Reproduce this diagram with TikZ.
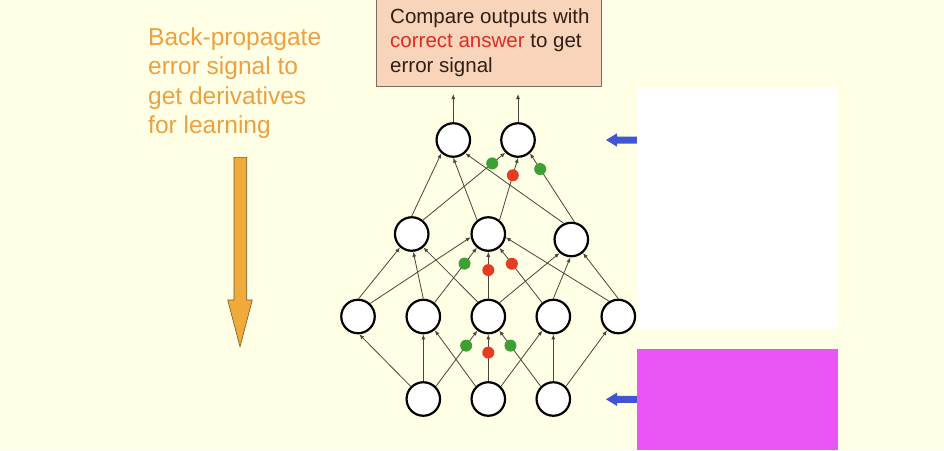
\documentclass[tikz,border=0pt]{standalone}
\usepackage{fontspec}
\setmainfont{Liberation Sans}
\usetikzlibrary{arrows.meta}
\definecolor{bg}{RGB}{255,255,230}
\definecolor{edgec}{RGB}{70,70,60}
\definecolor{dotg}{RGB}{60,160,50}
\definecolor{dotr}{RGB}{230,60,35}
\definecolor{boxfill}{RGB}{247,212,186}
\definecolor{boxline}{RGB}{120,110,100}
\definecolor{boxtext}{RGB}{50,30,20}
\definecolor{redtext}{RGB}{220,45,35}
\definecolor{orangetext}{RGB}{238,160,65}
\definecolor{arrowfill}{RGB}{240,170,60}
\definecolor{arrowline}{RGB}{110,90,40}
\definecolor{bluearrow}{RGB}{65,85,210}
\definecolor{magentabox}{RGB}{234,85,245}
\tikzset{
  neuron/.style={circle, draw=black, line width=2.2pt, fill=white, minimum size=33.5pt, inner sep=0pt},
  edge/.style={draw=edgec, line width=0.8pt, -{Latex[length=5pt,width=4pt]}},
  gdot/.style={circle, fill=dotg, minimum size=12pt, inner sep=0pt},
  rdot/.style={circle, fill=dotr, minimum size=12pt, inner sep=0pt},
  boxtxt/.style={anchor=base west, inner sep=0pt, text=boxtext, font=\fontsize{20.5}{24}\selectfont},
  otxt/.style={anchor=base west, inner sep=0pt, text=orangetext, font=\fontsize{24.5}{29}\selectfont},
}
\begin{document}
\begin{tikzpicture}[x=1pt,y=-1pt]
\useasboundingbox (0,0) rectangle (944,450);
\fill[bg] (0,0) rectangle (944,450);

% orange text and arrow
\node[otxt] (b1) at (148,45) {Back-propagate};
\node[otxt] (b2) at (148,74.5) {error signal to};
\node[otxt] (b3) at (148,104) {get derivatives};
\node[otxt] (b4) at (148,133.5) {for learning};
\draw[fill=arrowfill, draw=arrowline, line width=0.6pt]
  (234,157.3) -- (246.7,157.3) -- (246.7,300) -- (252.3,300) -- (240,346.7)
  -- (227.7,300) -- (234,300) -- cycle;

% compare box
\node[draw=boxline, fill=boxfill, line width=0.8pt, minimum width=225pt, minimum height=95pt,
      anchor=south west, inner sep=0pt] (cmp) at (375.7,87) {};
\node[boxtxt] (c1) at (390,23) {Compare outputs with};
\node[boxtxt] (c2) at (390,47.5) {\textcolor{redtext}{correct answer} to get};
\node[boxtxt] (c3) at (390,72) {error signal};

% blue arrows (partly hidden by rectangles)
\fill[bluearrow] (606,140) -- (617,133.3) -- (617,136.5) -- (640,136.5) -- (640,143.5)
  -- (617,143.5) -- (617,146.7) -- cycle;
\fill[bluearrow] (606,399.3) -- (617,392.6) -- (617,395.8) -- (640,395.8) -- (640,402.8)
  -- (617,402.8) -- (617,406) -- cycle;
\fill[white] (637,88.3) rectangle (837,329.3);
\fill[magentabox] (637,349) rectangle (838,450);

% neurons
\node[neuron] (o1) at (453.3,140) {};
\node[neuron] (o2) at (518,140) {};
\node[neuron] (h21) at (411.7,234) {};
\node[neuron] (h22) at (488.3,234) {};
\node[neuron] (h23) at (571.3,239.5) {};
\node[neuron] (h11) at (358,316.5) {};
\node[neuron] (h12) at (423.3,316.5) {};
\node[neuron] (h13) at (488.3,316.5) {};
\node[neuron] (h14) at (553.3,316.5) {};
\node[neuron] (h15) at (618.3,316.5) {};
\node[neuron] (i1) at (423.3,399) {};
\node[neuron] (i2) at (488.3,399) {};
\node[neuron] (i3) at (553.3,399) {};

\coordinate (t1) at (453.3,94);
\coordinate (t2) at (518,94);
\draw[edge] (o1.north) -- (t1);
\draw[edge] (o2.north) -- (t2);

% input -> hidden 1
\draw[edge] (i1.135) -- (h11.-86);
\draw[edge] (i1.90) -- (h12.-90);
\draw[edge] (i1.45) -- node[gdot,pos=0.73] (d1) {} (h13.-128);
\draw[edge] (i2.135) -- (h12.-50);
\draw[edge] (i2.90) -- node[rdot,pos=0.61] (d2) {} (h13.-90);
\draw[edge] (i2.45) -- (h14.-128);
\draw[edge] (i3.135) -- node[gdot,pos=0.73] (d3) {} (h13.-52);
\draw[edge] (i3.90) -- (h14.-90);
\draw[edge] (i3.45) -- (h15.-129);

% hidden 1 -> hidden 2
\draw[edge] (h11.88) -- (h21.-131);
\draw[edge] (h11.47) -- (h22.190);
\draw[edge] (h12.90) -- (h21.-85);
\draw[edge] (h12.51) -- node[gdot,pos=0.71] (d4) {} (h22.-130);
\draw[edge] (h13.126) -- (h21.-49);
\draw[edge] (h13.90) -- node[rdot,pos=0.61] (d5) {} (h22.-90);
\draw[edge] (h13.51) -- (h23.-131);
\draw[edge] (h14.129) -- node[rdot,pos=0.71] (d6) {} (h22.-51);
\draw[edge] (h14.90) -- (h23.-93);
\draw[edge] (h15.121) -- (h22.-11);
\draw[edge] (h15.90) -- (h23.-49);

% hidden 2 -> output
\draw[edge] (h21.90) -- (o1.-132);
\draw[edge] (h21.51) -- node[gdot,pos=0.84] (d7) {} (o2.-135);
\draw[edge] (h22.129) -- (o1.-90);
\draw[edge] (h22.51) -- node[rdot,pos=0.72] (d8) {} (o2.-90);
\draw[edge] (h23.115) -- (o1.-48);
\draw[edge] (h23.80) -- node[gdot,pos=0.77] (d9) {} (o2.-48);
\end{tikzpicture}
\end{document}
